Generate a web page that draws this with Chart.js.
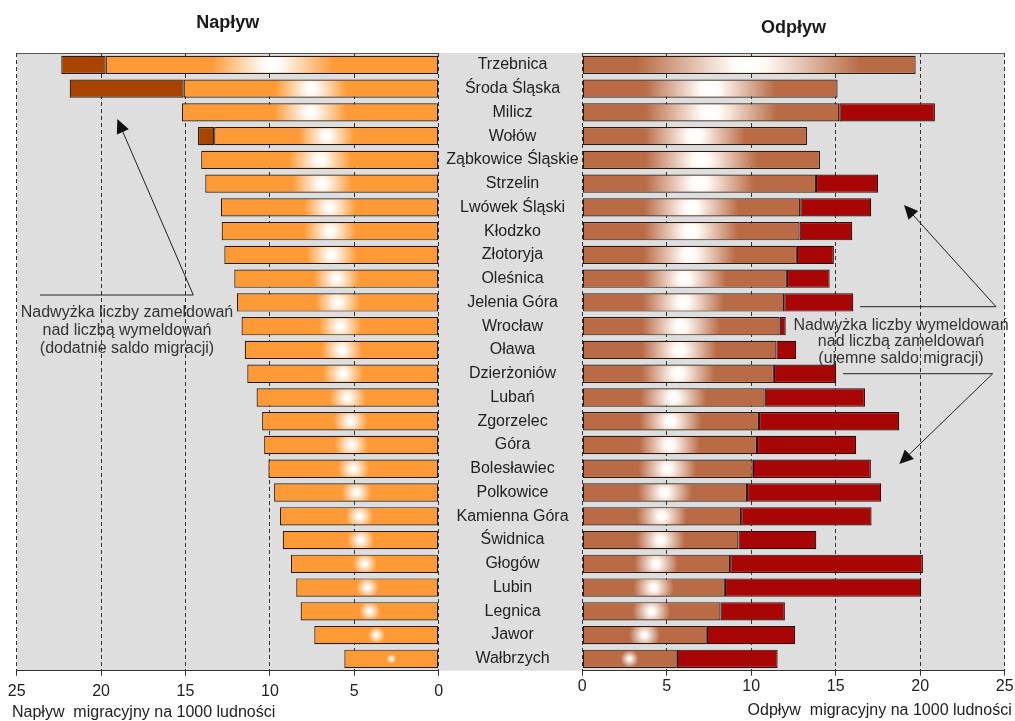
<!DOCTYPE html>
<html lang="pl">
<head>
<meta charset="UTF-8">
<title>Napływ i odpływ migracyjny</title>
<script src="https://cdn.jsdelivr.net/npm/chart.js@4.4.1/dist/chart.umd.min.js"></script>
<style>
    html, body { margin: 0; padding: 0; background: #fff; }
    .wrap { position: relative; width: 1015px; height: 721px; overflow: hidden; }
    #lewy { position: absolute; left: 0; top: 0; }
    #prawy { position: absolute; left: 570px; top: 0; }
</style>
</head>
<body>
<div class="wrap">
    <canvas id="lewy" width="585" height="721"></canvas>
    <canvas id="prawy" width="445" height="721"></canvas>
</div>
<script>
// dane (na 1000 ludności)
const powiaty = ['Trzebnica', 'Środa Śląska', 'Milicz', 'Wołów', 'Ząbkowice Śląskie', 'Strzelin',
    'Lwówek Śląski', 'Kłodzko', 'Złotoryja', 'Oleśnica', 'Jelenia Góra', 'Wrocław', 'Oława',
    'Dzierżoniów', 'Lubań', 'Zgorzelec', 'Góra', 'Bolesławiec', 'Polkowice', 'Kamienna Góra',
    'Świdnica', 'Głogów', 'Lubin', 'Legnica', 'Jawor', 'Wałbrzych'];
const naplyw = [22.36, 21.86, 15.21, 14.26, 14.07, 13.83, 12.90, 12.86, 12.70, 12.11, 11.95, 11.68, 11.49,
    11.34, 10.79, 10.46, 10.34, 10.09, 9.75, 9.40, 9.24, 8.75, 8.44, 8.18, 7.37, 5.59];
const odplyw = [19.73, 15.11, 20.87, 13.30, 14.07, 17.51, 17.10, 15.98, 14.89, 14.64, 16.04, 12.04, 12.66,
    15.03, 16.73, 18.76, 16.21, 17.08, 17.69, 17.12, 13.85, 20.16, 20.06, 11.99, 12.60, 11.56];
const podzialka = [0, 5, 10, 15, 20, 25];

// część wspólna i nadwyżki
const wspolna = naplyw.map((v, i) => Math.min(v, odplyw[i]));
const nadwyzkaZam = naplyw.map((v, i) => v > odplyw[i] ? v - odplyw[i] : null);
const nadwyzkaWym = odplyw.map((v, i) => v > naplyw[i] ? v - naplyw[i] : null);

const FONT = '"Liberation Sans", Arial, Helvetica, sans-serif';
Chart.defaults.font.family = FONT;
Chart.defaults.font.size = 16;
Chart.defaults.color = '#222';

// białe rozświetlenie na środku słupka
function blask(kolor, k) {
    return function (c) {
        const ch = c.chart;
        if (c.type !== 'data' || !ch.chartArea || c.raw == null) return kolor;
        const sx = ch.scales.x, sy = ch.scales.y;
        const p0 = sx.getPixelForValue(0), p1 = sx.getPixelForValue(c.raw);
        const w = Math.abs(p1 - p0);
        const cx = (p0 + p1) / 2, cy = sy.getPixelForValue(c.dataIndex);
        const r = Math.max(5, w * w / k);
        const g = ch.ctx.createRadialGradient(cx, cy, 0, cx, cy, r);
        g.addColorStop(0, '#ffffff');
        g.addColorStop(0.15, '#fffaf6');
        g.addColorStop(1, kolor);
        return g;
    };
}

function strzalka(ctx, x1, y1, x2, y2) {
    const a = Math.atan2(y2 - y1, x2 - x1), dl = 14, sz = 6.5;
    ctx.beginPath();
    ctx.moveTo(x1, y1);
    ctx.lineTo(x2 - Math.cos(a) * dl * 0.8, y2 - Math.sin(a) * dl * 0.8);
    ctx.stroke();
    ctx.beginPath();
    ctx.moveTo(x2, y2);
    ctx.lineTo(x2 - dl * Math.cos(a) + sz * Math.sin(a), y2 - dl * Math.sin(a) - sz * Math.cos(a));
    ctx.lineTo(x2 - dl * Math.cos(a) - sz * Math.sin(a), y2 - dl * Math.sin(a) + sz * Math.cos(a));
    ctx.closePath();
    ctx.fill();
}

// tło, tytuły, opisy i strzałki
const opisy = {
    id: 'opisy',
    beforeDraw(ch, args, o) {
        const { ctx, chartArea: ca } = ch;
        ctx.save();
        ctx.fillStyle = '#dedede';
        const x2 = o.tloDoKrawedzi ? ch.width : ca.right;
        ctx.fillRect(ca.left, ca.top, x2 - ca.left, ca.bottom - ca.top);
        ctx.restore();
    },
    afterDraw(ch, args, o) {
        const { ctx, chartArea: ca } = ch;
        const dx = o.dx;
        ctx.save();
        // górna krawędź
        ctx.strokeStyle = '#555';
        ctx.lineWidth = 1;
        ctx.beginPath();
        ctx.moveTo(ca.left, ca.top + 0.5);
        ctx.lineTo(ca.right, ca.top + 0.5);
        ctx.stroke();
        // tytuł
        ctx.fillStyle = '#1a1a1a';
        ctx.font = 'bold 18px ' + FONT;
        ctx.textAlign = 'center';
        ctx.textBaseline = 'alphabetic';
        ctx.fillText(o.tytul, (ca.left + ca.right) / 2, o.tytulY);
        // podpis osi
        ctx.font = '16px ' + FONT;
        ctx.fillStyle = '#222';
        ctx.textAlign = o.osAlign;
        ctx.fillText(o.os, o.osX - dx, o.osY);
        // opis nadwyżki
        ctx.fillStyle = '#333';
        ctx.textAlign = 'center';
        o.tekst.forEach((t, i) => ctx.fillText(t, o.tekstX - dx, o.tekstY + i * o.krok));
        // linie i strzałki
        ctx.strokeStyle = '#222';
        ctx.fillStyle = '#111';
        ctx.lineWidth = 1;
        o.linie.forEach(l => {
            ctx.beginPath();
            ctx.moveTo(l[0][0] - dx, l[0][1]);
            ctx.lineTo(l[1][0] - dx, l[1][1]);
            ctx.stroke();
            strzalka(ctx, l[1][0] - dx, l[1][1], l[2][0] - dx, l[2][1]);
        });
        ctx.restore();
    }
};

function osX(odwrocona, pad) {
    return {
        type: 'linear',
        min: 0,
        max: 25,
        reverse: odwrocona,
        stacked: true,
        afterBuildTicks: s => { s.ticks = podzialka.map(v => ({ value: v })); },
        afterFit: s => { s.height = 50.3; },
        grid: { color: '#333', lineWidth: 1, tickLength: 5, tickColor: '#333', tickWidth: 1 },
        border: { display: true, color: '#333', width: 1, dash: [4, 3] },
        ticks: { padding: pad, color: '#222', font: { size: 16 } }
    };
}

// szerokość najdłuższej nazwy - do wyśrodkowania etykiet w środkowej kolumnie
const miara = document.createElement('canvas').getContext('2d');
miara.font = '16px ' + FONT;
const najszersza = Math.max(...powiaty.map(p => miara.measureText(p).width));

new Chart(document.getElementById('lewy'), {
    type: 'bar',
    data: {
        labels: powiaty,
        datasets: [
            {
                label: 'Napływ',
                data: wspolna,
                backgroundColor: blask('#ff9a36', 1800),
                borderColor: '#2a1a0a',
                borderWidth: 1.2,
                borderSkipped: false
            },
            {
                label: 'Nadwyżka zameldowań',
                data: nadwyzkaZam,
                backgroundColor: '#a84300',
                borderColor: '#2a1a0a',
                borderWidth: 1.2,
                borderSkipped: false
            }
        ]
    },
    options: {
        indexAxis: 'y',
        responsive: false,
        animation: false,
        layout: { padding: { left: 16.7, right: 0, top: 53, bottom: 0 } },
        categoryPercentage: 1,
        barPercentage: 0.77,
        scales: {
            x: osX(true, 6.4),
            y: {
                type: 'category',
                position: 'right',
                stacked: true,
                afterFit: s => { s.width = 146.3; },
                grid: { display: false, drawTicks: false },
                border: { display: false },
                ticks: { crossAlign: 'center', padding: 73.8 - najszersza / 2, color: '#222', font: { size: 16 } }
            }
        },
        plugins: {
            legend: { display: false },
            tooltip: { enabled: false },
            opisy: {
                dx: 0,
                tloDoKrawedzi: true,
                tytul: 'Napływ',
                tytulY: 27.5,
                os: 'Napływ  migracyjny na 1000 ludności',
                osX: 12, osY: 717, osAlign: 'left',
                tekst: ['Nadwyżka liczby zameldowań', 'nad liczbą wymeldowań', '(dodatnie saldo migracji)'],
                tekstX: 127, tekstY: 317, krok: 18,
                linie: [[[40, 295], [193.3, 295], [117.3, 119]]]
            }
        }
    },
    plugins: [opisy]
});

new Chart(document.getElementById('prawy'), {
    type: 'bar',
    data: {
        labels: powiaty,
        datasets: [
            {
                label: 'Odpływ',
                data: wspolna,
                backgroundColor: blask('#b96b45', 1000),
                borderColor: '#2a1a12',
                borderWidth: 1.2,
                borderSkipped: false
            },
            {
                label: 'Nadwyżka wymeldowań',
                data: nadwyzkaWym,
                backgroundColor: '#a80505',
                borderColor: '#2a0a0a',
                borderWidth: 1.2,
                borderSkipped: false
            }
        ]
    },
    options: {
        indexAxis: 'y',
        responsive: false,
        animation: false,
        layout: { padding: { left: 12.3, right: 10.3, top: 53, bottom: 0 } },
        categoryPercentage: 1,
        barPercentage: 0.77,
        scales: {
            x: osX(false, 1.4),
            y: { type: 'category', stacked: true, display: false }
        },
        plugins: {
            legend: { display: false },
            tooltip: { enabled: false },
            opisy: {
                dx: 570,
                tloDoKrawedzi: false,
                tytul: 'Odpływ',
                tytulY: 32.5,
                os: 'Odpływ  migracyjny na 1000 ludności',
                osX: 1011.7, osY: 715, osAlign: 'right',
                tekst: ['Nadwyżka liczby wymeldowań', 'nad liczbą zameldowań', '(ujemne saldo migracji)'],
                tekstX: 901, tekstY: 329.5, krok: 16.5,
                linie: [
                    [[860, 306.7], [996, 306.7], [904, 205]],
                    [[843, 373.7], [992.7, 373.7], [899.3, 464]]
                ]
            }
        }
    },
    plugins: [opisy]
});
</script>
</body>
</html>
